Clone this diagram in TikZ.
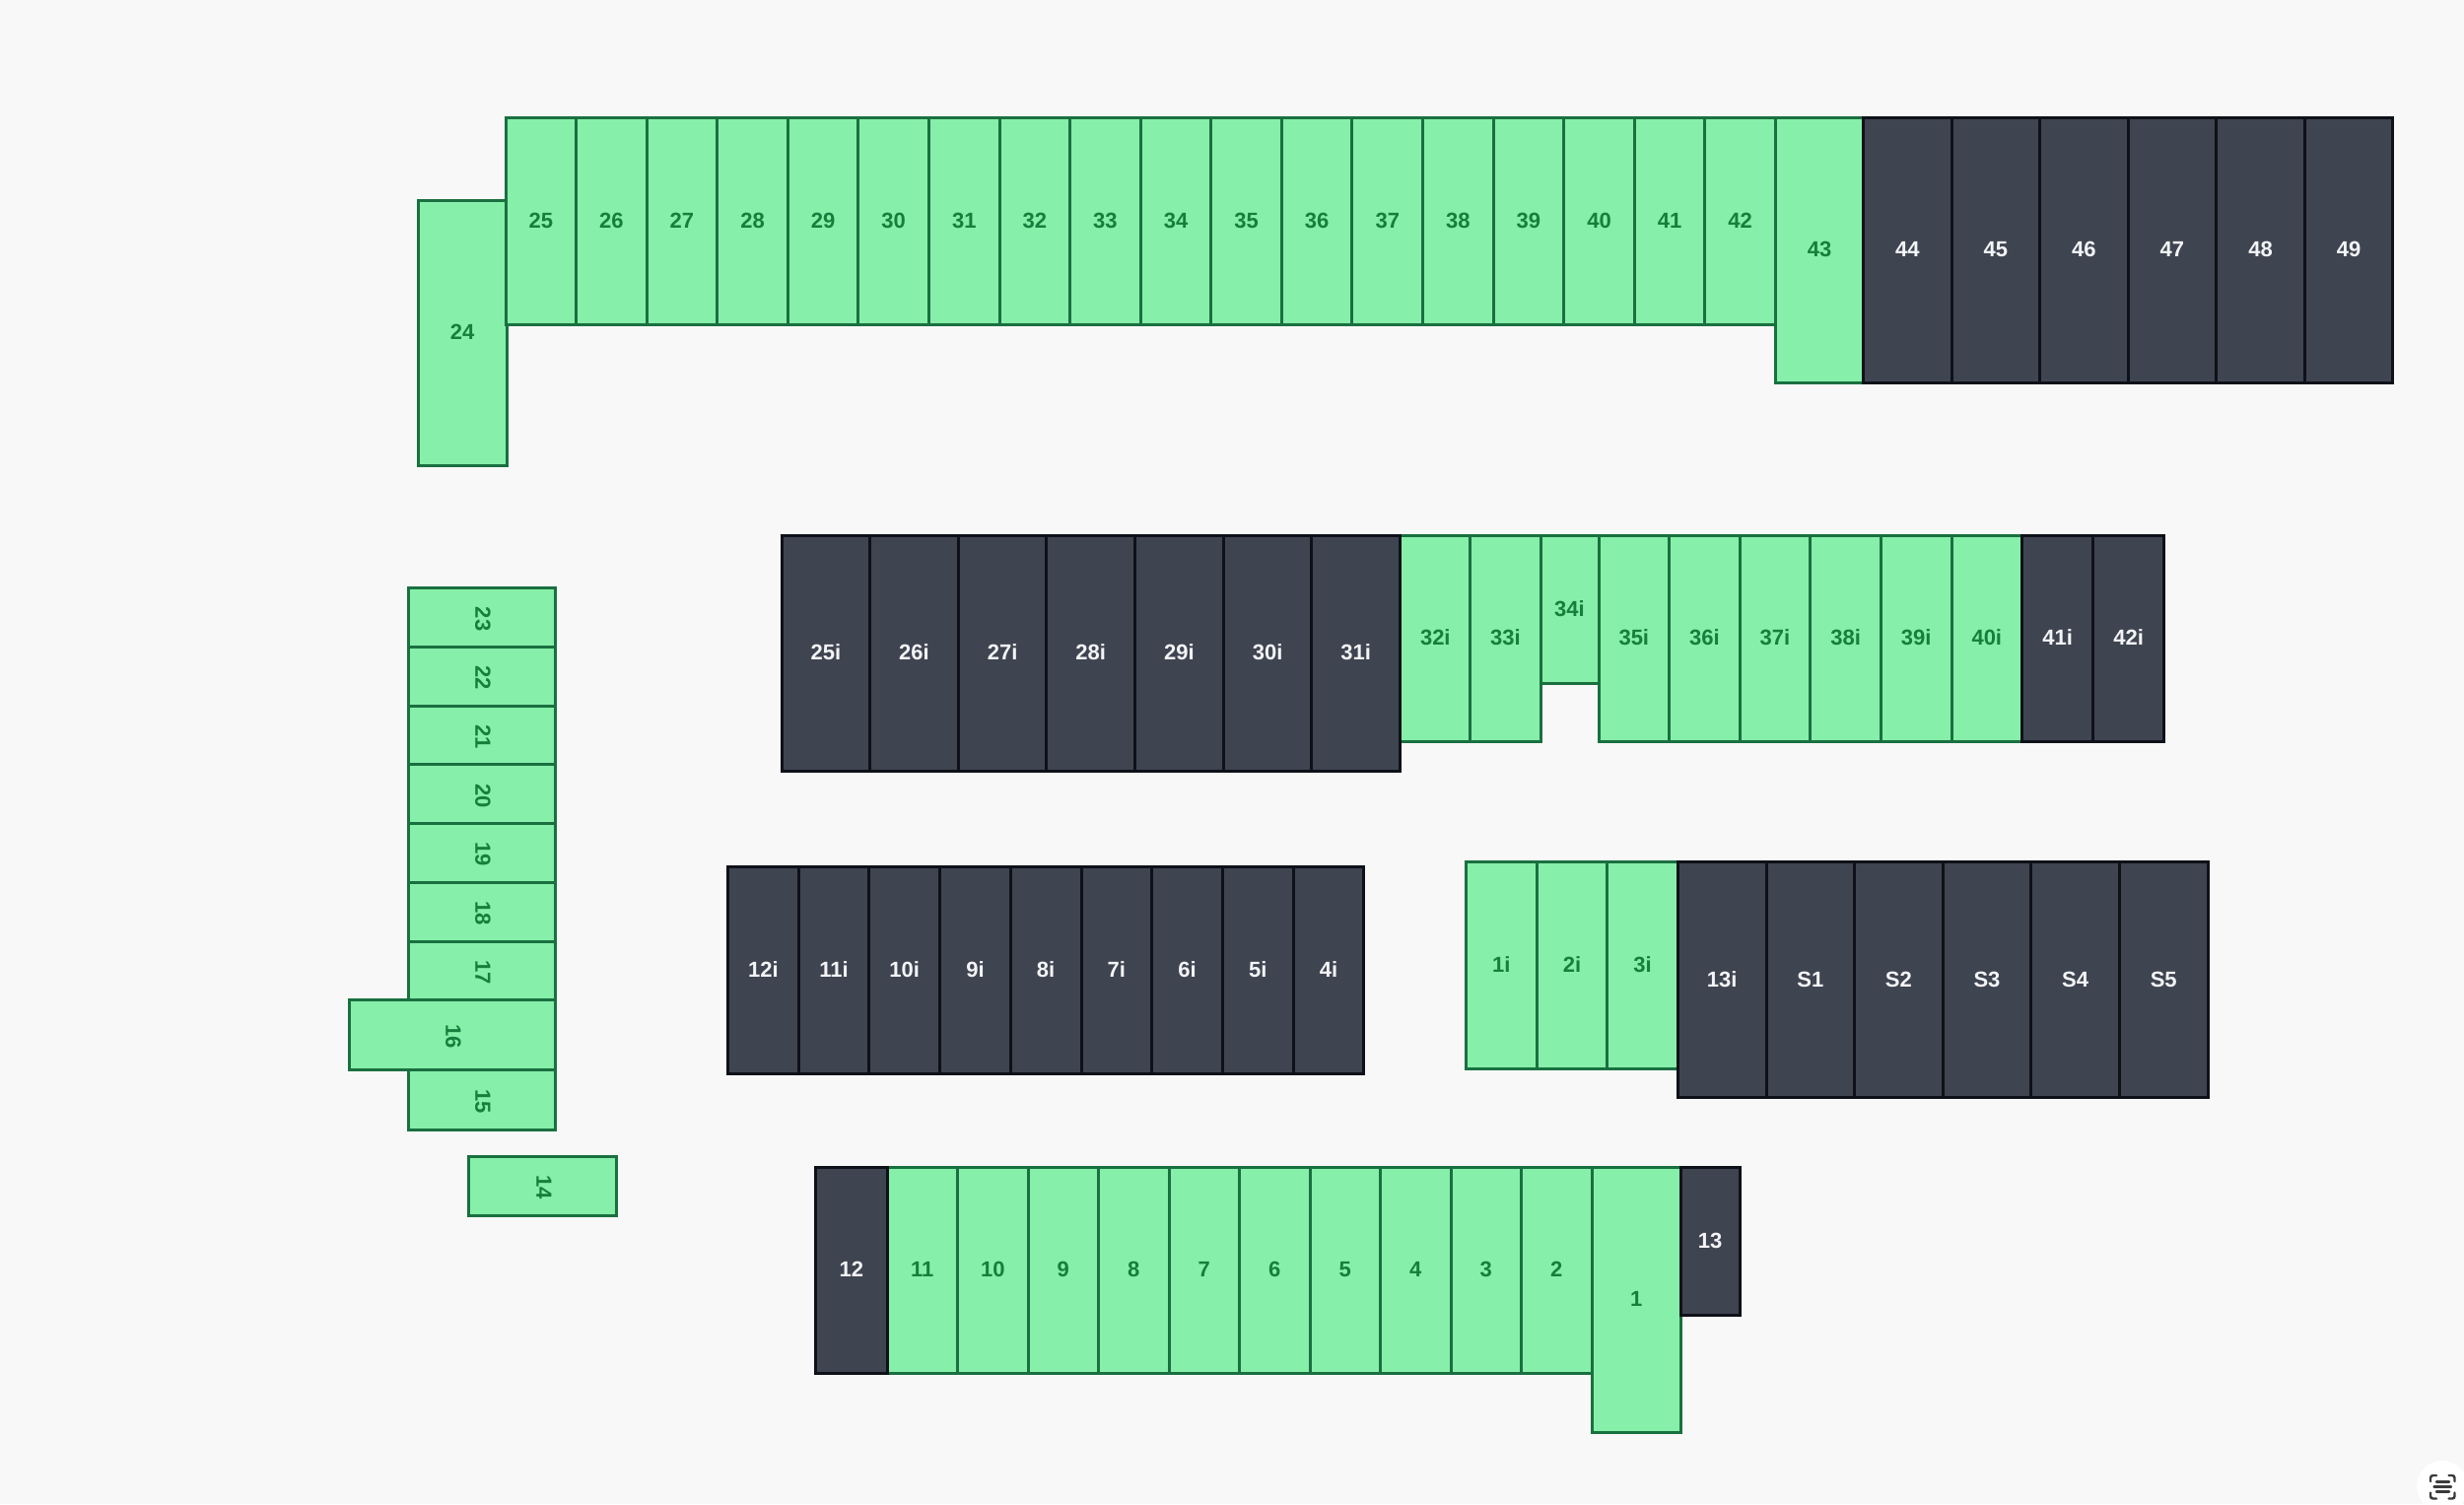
\documentclass[tikz,border=0pt]{standalone}
\usepackage{fontspec}
\setmainfont{Liberation Sans}
\definecolor{bgc}{HTML}{F8F8F8}
\definecolor{gfill}{HTML}{86EFA9}
\definecolor{gline}{HTML}{1A7040}
\definecolor{gtext}{HTML}{15803D}
\definecolor{dfill}{HTML}{3F4451}
\definecolor{dline}{HTML}{0E1118}
\definecolor{dtext}{HTML}{F3F4F6}
\definecolor{iconc}{HTML}{3A3A3A}
\tikzset{
  cellbase/.style={rectangle,draw,line width=3pt,inner sep=0pt,outer sep=0pt,
    font=\fontsize{22}{22}\selectfont\bfseries,text depth=1.5pt},
  gcell/.style={cellbase,fill=gfill,draw=gline,text=gtext},
  dcell/.style={cellbase,fill=dfill,draw=dline,text=dtext},
  vgcell/.style={gcell,rotate=-90,text depth=3pt},
  iconline/.style={draw=iconc,line width=2.4pt,line cap=round,rounded corners=2.5pt}
}
% \hcell{style}{name}{x0}{y0}{x1}{y1}{text}
\newcommand{\hcell}[7]{%
  \pgfmathsetmacro{\cw}{#5-(#3)}\pgfmathsetmacro{\ch}{#6-(#4)}%
  \pgfmathsetmacro{\cx}{(#3+#5)/2}\pgfmathsetmacro{\cy}{(#4+#6)/2}%
  \node[#1,minimum width=\cw pt,minimum height=\ch pt] (#2) at (\cx,\cy) {#7};}
% \vcell{name}{x0}{y0}{x1}{y1}{text} (text reads downward)
\newcommand{\vcell}[6]{%
  \pgfmathsetmacro{\cw}{#4-(#2)}\pgfmathsetmacro{\ch}{#5-(#3)}%
  \pgfmathsetmacro{\cx}{(#2+#4)/2}\pgfmathsetmacro{\cy}{(#3+#5)/2}%
  \node[vgcell,minimum width=\ch pt,minimum height=\cw pt] (#1) at (\cx,\cy) {\kern3pt #6};}
\begin{document}
\begin{tikzpicture}[x=1pt,y=-1pt]
\useasboundingbox (0,0) rectangle (2500,1526);
\fill[bgc] (0,0) rectangle (2500,1526);

% ---- top row
\hcell{gcell}{c24}{424}{203}{514}{472}{24}
\foreach \n [count=\i from 0] in {25,...,42}{
  \pgfmathsetmacro{\xa}{513+71.58*\i}\pgfmathsetmacro{\xb}{\xa+71.58}
  \hcell{gcell}{c\n}{\xa}{119.5}{\xb}{329}{\n}
}
\hcell{gcell}{c43}{1801.5}{119.5}{1890.5}{388}{43}
\foreach \n [count=\i from 0] in {44,...,49}{
  \pgfmathsetmacro{\xa}{1890.5+89.55*\i}\pgfmathsetmacro{\xb}{\xa+89.55}
  \hcell{dcell}{c\n}{\xa}{119.5}{\xb}{388}{\n}
}

% ---- second row
\foreach \n [count=\i from 0] in {32i,33i}{
  \pgfmathsetmacro{\xa}{1420.7+71.2*\i}\pgfmathsetmacro{\xb}{\xa+71.2}
  \hcell{gcell}{c\n}{\xa}{543}{\xb}{752}{\n}
}
\hcell{gcell}{c34i}{1563}{543}{1622}{693}{34i}
\foreach \n [count=\i from 0] in {35i,36i,37i,38i,39i,40i}{
  \pgfmathsetmacro{\xa}{1622+71.6*\i}\pgfmathsetmacro{\xb}{\xa+71.6}
  \hcell{gcell}{c\n}{\xa}{543}{\xb}{752}{\n}
}
\foreach \n [count=\i from 0] in {41i,42i}{
  \pgfmathsetmacro{\xa}{2051.7+72*\i}\pgfmathsetmacro{\xb}{\xa+72}
  \hcell{dcell}{c\n}{\xa}{543}{\xb}{752}{\n}
}
\foreach \n [count=\i from 0] in {25i,26i,27i,28i,29i,30i,31i}{
  \pgfmathsetmacro{\xa}{793+89.65*\i}\pgfmathsetmacro{\xb}{\xa+89.65}
  \hcell{dcell}{c\n}{\xa}{543}{\xb}{782}{\n}
}

% ---- third row, left block
\foreach \n [count=\i from 0] in {12i,11i,10i,9i,8i,7i,6i,5i,4i}{
  \pgfmathsetmacro{\xa}{738.5+71.7*\i}\pgfmathsetmacro{\xb}{\xa+71.7}
  \hcell{dcell}{c\n}{\xa}{879}{\xb}{1089}{\n}
}

% ---- third row, right block
\foreach \n [count=\i from 0] in {1i,2i,3i}{
  \pgfmathsetmacro{\xa}{1487.6+71.6*\i}\pgfmathsetmacro{\xb}{\xa+71.6}
  \hcell{gcell}{c\n}{\xa}{874.5}{\xb}{1084}{\n}
}
\foreach \n [count=\i from 0] in {13i,S1,S2,S3,S4,S5}{
  \pgfmathsetmacro{\xa}{1702.4+89.6*\i}\pgfmathsetmacro{\xb}{\xa+89.6}
  \hcell{dcell}{c\n}{\xa}{874.5}{\xb}{1113.7}{\n}
}

% ---- bottom row
\foreach \n [count=\i from 0] in {11,10,9,8,7,6,5,4,3,2}{
  \pgfmathsetmacro{\xa}{900+71.5*\i}\pgfmathsetmacro{\xb}{\xa+71.5}
  \hcell{gcell}{c\n}{\xa}{1184.5}{\xb}{1393}{\n}
}
\hcell{gcell}{c1}{1615}{1184.5}{1705.3}{1453}{1}
\hcell{dcell}{c12}{827.5}{1184.5}{900}{1393}{12}
\hcell{dcell}{c13}{1705.3}{1184.5}{1765}{1334}{13}

% ---- left column
\foreach \n [count=\i from 0] in {23,22,21,20,19,18,17}{
  \pgfmathsetmacro{\ya}{596.8+59.7*\i}\pgfmathsetmacro{\yb}{\ya+59.7}
  \vcell{c\n}{414}{\ya}{563}{\yb}{\n}
}
\vcell{c15}{414}{1085.7}{563}{1146}{15}
\vcell{c16}{354}{1014.5}{563}{1085.7}{16}
\vcell{c14}{475.3}{1173.5}{625.7}{1233}{14}

% ---- corner badge
\fill[white] (2478,1508) circle[radius=26];
\draw[iconline] (2466,1503) -- (2466,1497) -- (2472,1497);
\draw[iconline] (2484.5,1497) -- (2490.5,1497) -- (2490.5,1503);
\draw[iconline] (2466,1514.5) -- (2466,1520.5) -- (2472,1520.5);
\draw[iconline] (2484.5,1520.5) -- (2490.5,1520.5) -- (2490.5,1514.5);
\draw[iconline] (2472,1503.5) -- (2485,1503.5);
\draw[iconline] (2469.5,1508.5) -- (2487,1508.5);
\draw[iconline] (2472,1513.5) -- (2485,1513.5);
\end{tikzpicture}
\end{document}
